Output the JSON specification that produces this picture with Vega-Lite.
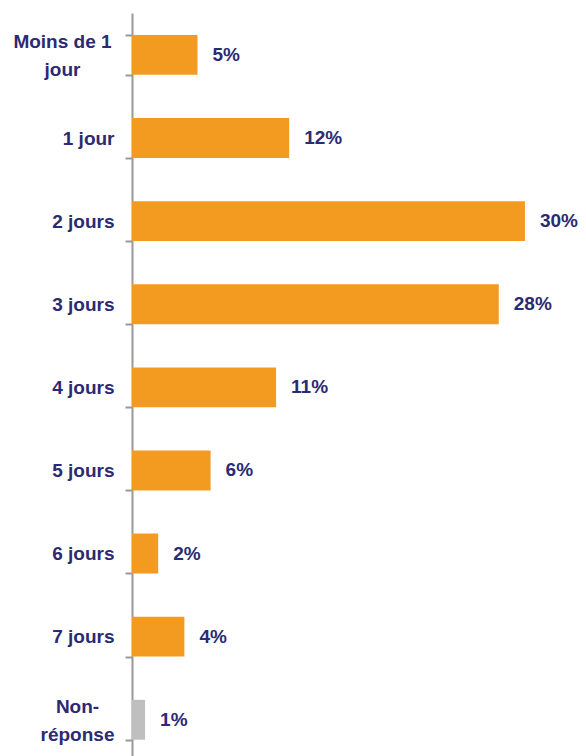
{
  "$schema": "https://vega.github.io/schema/vega-lite/v6.json",
  "width": 454,
  "height": 743,
  "autosize": {"type": "none"},
  "padding": {"left": 132, "top": 13, "right": 0, "bottom": 0},
  "background": "white",
  "config": {"view": {"stroke": null}},
  "data": {
    "values": [
      {"cat": "Moins de 1 jour", "pct": 0.05},
      {"cat": "1 jour", "pct": 0.12},
      {"cat": "2 jours", "pct": 0.30},
      {"cat": "3 jours", "pct": 0.28},
      {"cat": "4 jours", "pct": 0.11},
      {"cat": "5 jours", "pct": 0.06},
      {"cat": "6 jours", "pct": 0.02},
      {"cat": "7 jours", "pct": 0.04},
      {"cat": "Non-réponse", "pct": 0.01}
    ]
  },
  "encoding": {
    "y": {
      "field": "cat",
      "type": "nominal",
      "sort": null,
      "scale": {"paddingInner": 0.52, "paddingOuter": 0.23, "align": 0.574},
      "axis": {
        "title": null,
        "tickBand": "extent",
        "domainColor": "#999999",
        "domainWidth": 2,
        "tickColor": "#999999",
        "tickWidth": 2,
        "tickSize": 7,
        "labelPadding": {
          "condition": [
            {"test": "datum.value == 'Moins de 1 jour'", "value": 63},
            {"test": "datum.value == 'Non-réponse'", "value": 48}
          ],
          "value": 11
        },
        "labelAlign": {
          "condition": {"test": "datum.value == 'Moins de 1 jour' || datum.value == 'Non-réponse'", "value": "center"},
          "value": "right"
        },
        "labelOffset": {
          "condition": {"test": "datum.value == 'Moins de 1 jour' || datum.value == 'Non-réponse'", "value": -13},
          "value": 0
        },
        "labelFont": "Liberation Sans",
        "labelFontWeight": "bold",
        "labelFontSize": 19,
        "labelColor": "#2B2A72",
        "labelLineHeight": 28,
        "labelExpr": "datum.value == 'Moins de 1 jour' ? ['Moins de 1', 'jour'] : datum.value == 'Non-réponse' ? ['Non-', 'réponse'] : datum.value"
      }
    },
    "x": {
      "field": "pct",
      "type": "quantitative",
      "scale": {"domain": [0, 0.3466], "nice": false, "zero": true},
      "axis": null
    }
  },
  "layer": [
    {
      "mark": {"type": "bar"},
      "encoding": {
        "color": {
          "condition": {"test": "datum.cat == 'Non-réponse'", "value": "#BFBFBF"},
          "value": "#F39A21"
        }
      }
    },
    {
      "mark": {
        "type": "text",
        "align": "left",
        "baseline": "middle",
        "dx": 15,
        "font": "Liberation Sans",
        "fontWeight": "bold",
        "fontSize": 19,
        "color": "#2B2A72"
      },
      "encoding": {
        "text": {"field": "pct", "type": "quantitative", "format": ".0%"}
      }
    }
  ]
}
